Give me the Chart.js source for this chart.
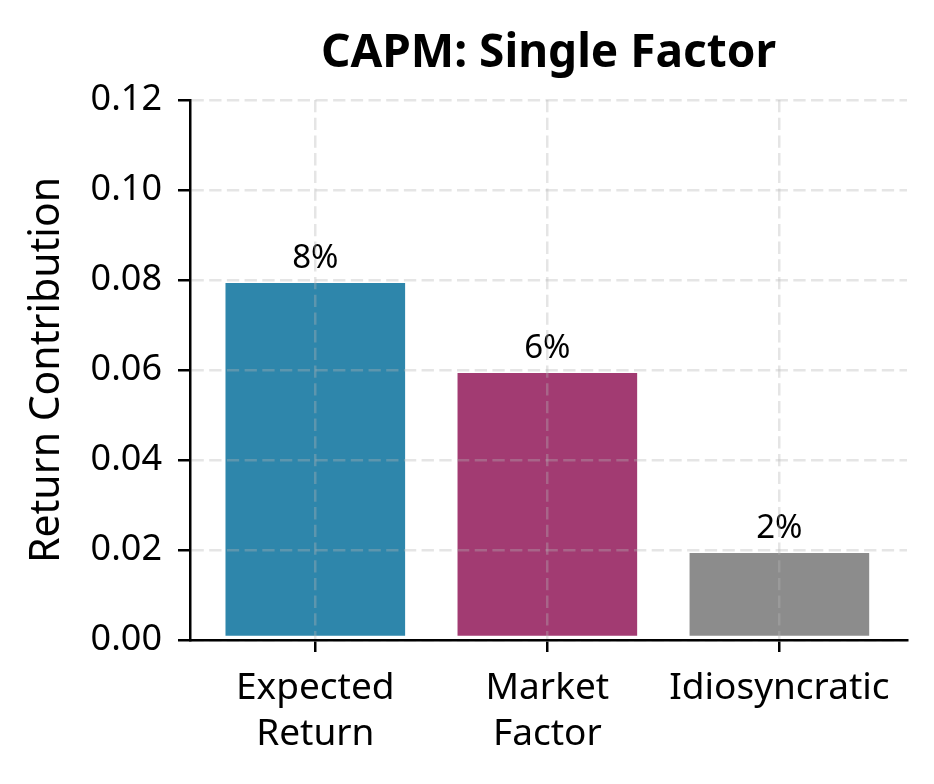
<!DOCTYPE html>
<html>
<head>
<meta charset="utf-8">
<script src="https://cdn.jsdelivr.net/npm/chart.js@4.4.1/dist/chart.umd.min.js"></script>
<style>
  html, body { margin: 0; padding: 0; background: #fff; }
  #wrap { width: 934px; height: 784px; }
</style>
</head>
<body>
<div id="wrap"><canvas id="capmChart" width="934" height="784"></canvas></div>
<script>
// ข้อมูล (data)
const categories = [['Expected', 'Return'], ['Market', 'Factor'], 'Idiosyncratic'];
const values = [0.08, 0.06, 0.02];
const barColors = ['#2E86AB', '#A23B72', '#8C8C8C'];
const yTicks = [0, 0.02, 0.04, 0.06, 0.08, 0.10, 0.12];
const chartTitle = 'CAPM: Single Factor';
const yTitle = 'Return Contribution';

const FONT = '"Noto Sans", Lato, sans-serif';
const GRID = 'rgba(180,180,180,0.35)';

// ชื่อกราฟ อยู่กึ่งกลางพื้นที่พล็อต
const titlePlugin = {
  id: 'plotTitle',
  afterDraw(chart) {
    const { ctx, chartArea } = chart;
    ctx.save();
    ctx.font = 'bold 46px ' + FONT;
    ctx.fillStyle = '#000';
    ctx.textAlign = 'center';
    ctx.textBaseline = 'alphabetic';
    ctx.fillText(chartTitle, (chartArea.left + chartArea.right) / 2, 67);
    ctx.restore();
  }
};

// ป้ายค่าเหนือแท่ง
const valueLabels = {
  id: 'valueLabels',
  afterDatasetsDraw(chart) {
    const { ctx } = chart;
    const meta = chart.getDatasetMeta(0);
    ctx.save();
    ctx.font = '33px ' + FONT;
    ctx.fillStyle = '#000';
    ctx.textAlign = 'center';
    ctx.textBaseline = 'alphabetic';
    meta.data.forEach((bar, i) => {
      const y = chart.scales.y.getPixelForValue(values[i]);
      ctx.fillText(Math.round(values[i] * 100) + '%', bar.x, y - 12);
    });
    ctx.restore();
  }
};

// เส้นกริดวาดทับแท่ง (z > 0)
const gridOpts = {
  z: 1, color: GRID, lineWidth: 2.5,
  tickColor: '#000', tickWidth: 2.5, tickLength: 12, tickBorderDash: []
};
const borderOpts = { display: true, z: 2, color: '#000', width: 2.5, dash: [12.3, 5.4] };

new Chart(document.getElementById('capmChart'), {
  type: 'bar',
  data: {
    datasets: [{
      data: values.map((v, i) => ({ x: i, y: v })),
      backgroundColor: barColors,
      borderColor: '#fff',
      borderWidth: 3,
      borderSkipped: false,
      barPercentage: 0.8,
      categoryPercentage: 1
    }]
  },
  plugins: [titlePlugin, valueLabels],
  options: {
    responsive: false,
    animation: false,
    devicePixelRatio: 1,
    layout: { padding: { left: 0, right: 27, top: 100, bottom: 0 } },
    plugins: { legend: { display: false }, tooltip: { enabled: false }, title: { display: false } },
    scales: {
      x: {
        type: 'linear',
        min: -0.54, max: 2.55,
        offset: false,
        afterBuildTicks: s => { s.ticks = categories.map((c, i) => ({ value: i })); },
        afterFit: s => { s.height = 144; },
        ticks: {
          z: 2, autoSkip: false, maxRotation: 0,
          padding: 13, color: '#000',
          font: { family: FONT, size: 37, lineHeight: 1.25 },
          callback: (v, i) => categories[i]
        },
        grid: Object.assign({ offset: false }, gridOpts),
        border: borderOpts
      },
      y: {
        min: 0, max: 0.12,
        afterBuildTicks: s => { s.ticks = yTicks.map(v => ({ value: v })); },
        afterFit: s => { s.width = 190; },
        ticks: {
          z: 2, padding: 16, color: '#000',
          font: { family: FONT, size: 36 },
          callback: v => v.toFixed(2)
        },
        grid: gridOpts,
        border: borderOpts,
        title: {
          display: true, text: yTitle, color: '#000',
          font: { family: FONT, size: 41 },
          padding: { top: 23, bottom: 0 }
        }
      }
    }
  }
});
</script>
</body>
</html>
